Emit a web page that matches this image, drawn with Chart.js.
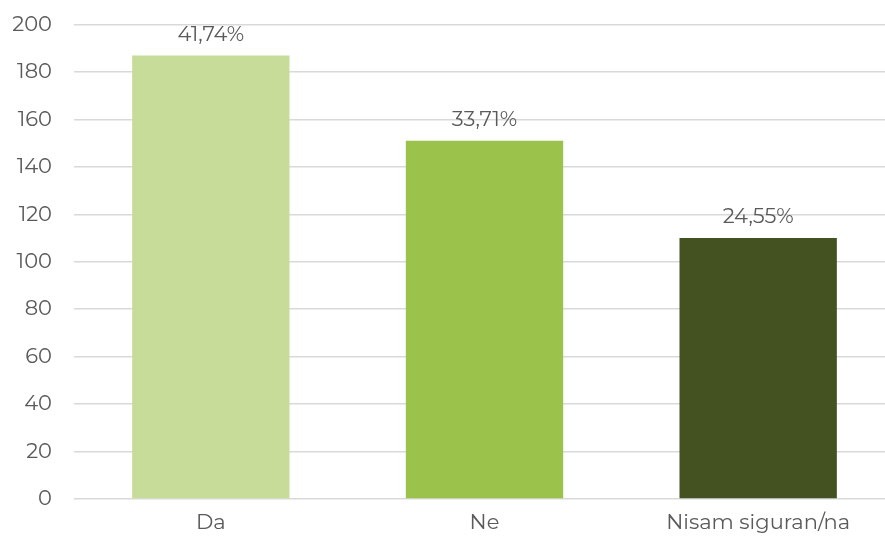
<!DOCTYPE html>
<html>
<head>
<meta charset="utf-8">
<script src="https://cdn.jsdelivr.net/npm/chart.js@4"></script>
<style>
  html, body { margin: 0; padding: 0; background: #fff; overflow: hidden; }
  #wrap { width: 895px; height: 547px; margin-top: -10px; }
</style>
</head>
<body>
<div id="wrap"><canvas id="chart"></canvas></div>
<script>
// Daten
const categories = ['Da', 'Ne', 'Nisam siguran/na']
const counts = [187, 151, 110]
const percentLabels = ['41,74%', '33,71%', '24,55%']
const barColors = ['#c6dc98', '#9bc24a', '#435220']
const yTicks = [0, 20, 40, 60, 80, 100, 120, 140, 160, 180, 200]

const textColor = '#5a5a5a'
const fontFamily = 'Montserrat, "Open Sans", Lato, sans-serif'
const fontSize = 21

// Prozentwerte über den Balken zeichnen
const percentPlugin = {
  id: 'percentLabels',
  afterDatasetsDraw(chart) {
    const ctx = chart.ctx
    const meta = chart.getDatasetMeta(0)
    ctx.save()
    ctx.font = fontSize + 'px ' + fontFamily
    ctx.fillStyle = textColor
    ctx.textAlign = 'center'
    ctx.textBaseline = 'middle'
    meta.data.forEach((bar, i) => {
      ctx.fillText(percentLabels[i], bar.x, bar.y - 21)
    })
    ctx.restore()
  }
}

new Chart(document.getElementById('chart'), {
  type: 'bar',
  data: {
    labels: categories,
    datasets: [{
      data: counts,
      backgroundColor: barColors,
      borderWidth: 0,
      categoryPercentage: 1,
      barPercentage: 0.575
    }]
  },
  options: {
    responsive: true,
    maintainAspectRatio: false,
    animation: false,
    layout: { padding: 0 },
    plugins: {
      legend: { display: false },
      tooltip: { enabled: false }
    },
    scales: {
      y: {
        min: 0,
        max: 200,
        afterBuildTicks(scale) {
          scale.ticks = yTicks.map(v => ({ value: v }))
        },
        afterFit(scale) { scale.width = 74 },
        border: { display: false },
        grid: { color: '#d9d9d9', lineWidth: 1.5, drawTicks: false },
        ticks: {
          padding: 22,
          color: textColor,
          font: { family: fontFamily, size: fontSize }
        }
      },
      x: {
        afterFit(scale) { scale.height = 38 },
        border: { display: false },
        grid: { display: false, drawTicks: false },
        ticks: {
          padding: 11,
          color: textColor,
          font: { family: fontFamily, size: fontSize }
        }
      }
    }
  },
  plugins: [percentPlugin]
})
</script>
</body>
</html>
